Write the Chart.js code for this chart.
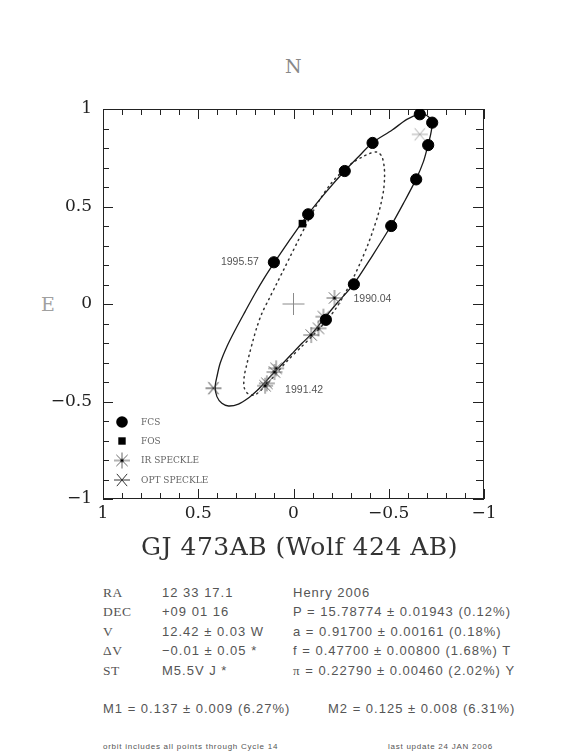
<!DOCTYPE html>
<html lang="en">
  <head>
    <meta charset="UTF-8" />
    <title>GJ 473AB orbit</title>
    <script src="https://cdn.jsdelivr.net/npm/chart.js"></script>
    <style>
      body {
        margin: 0;
        background: #fff;
        width: 566px;
        height: 754px;
        position: relative;
        overflow: hidden;
        font-family: "Liberation Sans", Arial, sans-serif;
        color: #555;
      }
      #wrap {
        position: absolute;
        left: 0;
        top: 0;
        width: 566px;
        height: 570px;
      }
      .lbl {
        position: absolute;
        white-space: pre;
        line-height: 16px;
      }
      .compass {
        font-family: "DejaVu Serif", serif;
        font-size: 19px;
        line-height: 20px;
        color: #888;
      }
      .title {
        left: 0;
        width: 599px;
        text-align: center;
        font-family: "DejaVu Serif", serif;
        font-size: 25px;
        letter-spacing: 0.5px;
        line-height: 30px;
        color: #333;
      }
      .info {
        font-size: 13px;
        letter-spacing: 1px;
      }
      .key {
        font-family: "Liberation Serif", serif;
        font-size: 13.5px;
        letter-spacing: 0.5px;
      }
      .foot {
        font-size: 8px;
        letter-spacing: 0.75px;
        line-height: 10px;
      }
    </style>
  </head>
  <body>
    <div class="lbl compass" style="left: 285px; top: 56px">N</div>
    <div class="lbl compass" style="left: 41px; top: 294px; color: #a0a0a0">E</div>
    <div id="wrap"><canvas id="orbitChart" width="566" height="570"></canvas></div>
    <div class="lbl title" style="top: 532px">GJ 473AB (Wolf 424 AB)</div>

    <div class="lbl key" style="left: 103px; top: 585px">RA</div>
    <div class="lbl info" style="left: 162px; top: 585px">12 33 17.1</div>
    <div class="lbl info" style="left: 293px; top: 585px">Henry 2006</div>

    <div class="lbl key" style="left: 103px; top: 604px">DEC</div>
    <div class="lbl info" style="left: 162px; top: 604px">+09 01 16</div>
    <div class="lbl info" style="left: 293px; top: 604px">P = 15.78774 ± 0.01943 (0.12%)</div>

    <div class="lbl key" style="left: 103px; top: 624px">V</div>
    <div class="lbl info" style="left: 162px; top: 624px">12.42 ± 0.03 W</div>
    <div class="lbl info" style="left: 293px; top: 624px">a = 0.91700 ± 0.00161 (0.18%)</div>

    <div class="lbl key" style="left: 103px; top: 643px">ΔV</div>
    <div class="lbl info" style="left: 162px; top: 643px">−0.01 ± 0.05 *</div>
    <div class="lbl info" style="left: 293px; top: 643px">f = 0.47700 ± 0.00800 (1.68%) T</div>

    <div class="lbl key" style="left: 103px; top: 663px">ST</div>
    <div class="lbl info" style="left: 162px; top: 663px">M5.5V J *</div>
    <div class="lbl info" style="left: 293px; top: 663px"><span style="font-family: 'Liberation Serif', serif">π</span> = 0.22790 ± 0.00460 (2.02%) Y</div>

    <div class="lbl info" style="left: 103px; top: 701px">M1 = 0.137 ± 0.009 (6.27%)</div>
    <div class="lbl info" style="left: 328px; top: 701px">M2 = 0.125 ± 0.008 (6.31%)</div>

    <div class="lbl foot" style="left: 103px; top: 742px">orbit includes all points through Cycle 14</div>
    <div class="lbl foot" style="left: 388px; top: 742px">last update 24 JAN 2006</div>

    <script>
      // relative position of B around A, arcsec (x axis runs east-positive to the left)
      const fcsX = [-0.663, -0.728, -0.707, -0.644, -0.513, -0.317, -0.170, -0.415, -0.269, -0.077, 0.103];
      const fcsY = [0.973, 0.930, 0.815, 0.639, 0.400, 0.101, -0.081, 0.826, 0.682, 0.460, 0.214];

      const fosX = [-0.047];
      const fosY = [0.412];

      const irX = [-0.215, -0.157, -0.131, -0.093, 0.091, 0.100, 0.140, 0.149];
      const irY = [0.031, -0.065, -0.125, -0.159, -0.330, -0.349, -0.407, -0.419];

      const optX = [0.420, -0.663];
      const optY = [-0.432, 0.870];

      // fitted orbit (solid)
      const orbitX = [0.017, -0.076, -0.166, -0.268, -0.341, -0.413, -0.518, -0.595, -0.661, -0.700,
        -0.727, -0.721, -0.706, -0.682, -0.643, -0.577, -0.511, -0.413, -0.315, -0.228,
        -0.161, -0.097, -0.046, 0.007, 0.059, 0.109, 0.151, 0.191, 0.233, 0.289,
        0.341, 0.376, 0.402, 0.411, 0.402, 0.385, 0.350, 0.306, 0.254, 0.201,
        0.149, 0.101, 0.017];
      const orbitY = [0.333, 0.460, 0.569, 0.682, 0.755, 0.826, 0.892, 0.947, 0.973, 0.967,
        0.930, 0.875, 0.815, 0.730, 0.639, 0.516, 0.400, 0.246, 0.101, 0.004,
        -0.074, -0.151, -0.200, -0.254, -0.308, -0.359, -0.403, -0.444, -0.479, -0.513,
        -0.523, -0.509, -0.475, -0.424, -0.373, -0.304, -0.219, -0.133, -0.039, 0.055,
        0.140, 0.212, 0.333];

      // dotted orbit
      const dottedX = [0.014, -0.024, -0.062, -0.101, -0.140, -0.193, -0.250, -0.308, -0.361, -0.403,
        -0.439, -0.464, -0.476, -0.478, -0.473, -0.460, -0.442, -0.418, -0.390, -0.355,
        -0.316, -0.271, -0.224, -0.172, -0.109, -0.040, 0.028, 0.080, 0.122, 0.164,
        0.206, 0.240, 0.259, 0.259, 0.246, 0.230, 0.212, 0.191, 0.166, 0.128,
        0.090, 0.052, 0.014];
      const dottedY = [0.250, 0.324, 0.398, 0.472, 0.538, 0.613, 0.674, 0.723, 0.754, 0.773,
        0.779, 0.756, 0.704, 0.651, 0.585, 0.518, 0.451, 0.379, 0.303, 0.221,
        0.138, 0.056, -0.021, -0.087, -0.154, -0.221, -0.287, -0.344, -0.392, -0.436,
        -0.467, -0.459, -0.428, -0.374, -0.313, -0.251, -0.185, -0.115, -0.048, 0.027,
        0.101, 0.175, 0.250];

      const axisTicks = [-1, -0.5, 0, 0.5, 1];

      const dateLabels = ["1995.57", "1990.04", "1991.42"];
      const dateX = [0.103, -0.215, 0.149];
      const dateY = [0.214, 0.031, -0.419];

      const legendNames = ["FCS", "FOS", "IR SPECKLE", "OPT SPECKLE"];

      function pts(xs, ys) {
        return xs.map((x, i) => ({ x: x, y: ys[i] }));
      }

      // star-like markers drawn on small canvases
      function starMark(angles, r, color, dot) {
        const c = document.createElement("canvas");
        c.width = c.height = 2 * r + 2;
        const g = c.getContext("2d");
        const m = r + 1;
        g.strokeStyle = color;
        g.lineWidth = 1;
        angles.forEach((deg) => {
          const a = (deg * Math.PI) / 180;
          g.beginPath();
          g.moveTo(m - r * Math.cos(a), m - r * Math.sin(a));
          g.lineTo(m + r * Math.cos(a), m + r * Math.sin(a));
          g.stroke();
        });
        if (dot) {
          g.fillStyle = "#000";
          g.beginPath();
          g.arc(m, m, 1.6, 0, Math.PI * 2);
          g.fill();
        }
        return c;
      }
      const irMark = starMark([0, 45, 90, 135], 8, "#666", true);
      const optDark = starMark([0, 50, 130], 8, "#333", false);
      const optLight = starMark([0, 50, 130], 8, "#aaa", false);

      const fmt = (v) => (v === 0 ? "0" : v < 0 ? "\u2212" + Math.abs(v) : String(v));

      // frame with inward ticks on all four sides, plus epoch labels and the key
      const framePlugin = {
        id: "frame",
        beforeDatasetsDraw(chart) {
          const { ctx, chartArea: a, scales } = chart;
          ctx.save();
          ctx.strokeStyle = "#222";
          ctx.lineWidth = 1;
          ctx.strokeRect(a.left + 0.5, a.top + 0.5, a.width - 1, a.height - 1);
          ctx.beginPath();
          for (let i = -10; i <= 10; i++) {
            const major = i % 5 === 0;
            const len = major ? 10 : 6;
            const lenR = major ? 11 : 8;
            const px = Math.round(scales.x.getPixelForValue(i / 10)) + 0.5;
            const py = Math.round(scales.y.getPixelForValue(i / 10)) + 0.5;
            ctx.moveTo(px, a.bottom);
            ctx.lineTo(px, a.bottom - len);
            ctx.moveTo(px, a.top);
            ctx.lineTo(px, a.top + len);
            ctx.moveTo(a.left, py);
            ctx.lineTo(a.left + len, py);
            ctx.moveTo(a.right, py);
            ctx.lineTo(a.right - lenR, py);
          }
          ctx.stroke();
          ctx.restore();
        },
        afterDatasetsDraw(chart) {
          const { ctx, chartArea: a, scales } = chart;
          ctx.save();
          const dx = [-15, 19, 20];
          const dy = [0, 1, 4];
          const align = ["right", "left", "left"];
          ctx.font = '10.5px "Liberation Sans", sans-serif';
          ctx.fillStyle = "#555";
          ctx.textBaseline = "middle";
          dateLabels.forEach((t, i) => {
            ctx.textAlign = align[i];
            ctx.fillText(t, scales.x.getPixelForValue(dateX[i]) + dx[i], scales.y.getPixelForValue(dateY[i]) + dy[i]);
          });
          const sx = a.left + 19;
          const tx = a.left + 38;
          const rows = [77, 58, 38.5, 19];
          ctx.font = '9px "DejaVu Serif", serif';
          ctx.textAlign = "left";
          legendNames.forEach((name, i) => {
            const y = a.bottom - rows[i];
            ctx.fillStyle = "#000";
            if (i === 0) {
              ctx.beginPath();
              ctx.arc(sx, y, 5.8, 0, Math.PI * 2);
              ctx.fill();
            } else if (i === 1) {
              ctx.fillRect(sx - 3.7, y - 3.7, 7.4, 7.4);
            } else {
              const m = i === 2 ? irMark : optDark;
              ctx.drawImage(m, sx - m.width / 2, y - m.height / 2);
            }
            ctx.fillStyle = "#666";
            ctx.fillText(name, tx, y + 0.5);
          });
          ctx.restore();
        },
      };

      const serifTicks = { family: '"DejaVu Serif", serif', size: 17 };

      new Chart(document.getElementById("orbitChart"), {
        type: "scatter",
        data: {
          datasets: [
            {
              label: "FCS",
              data: pts(fcsX, fcsY),
              pointStyle: "circle",
              pointRadius: 5.6,
              pointBackgroundColor: "#000",
              pointBorderColor: "#000",
              pointBorderWidth: 1,
              order: 0,
            },
            {
              label: "FOS",
              data: pts(fosX, fosY),
              pointStyle: "rect",
              pointRadius: 5.4,
              pointBackgroundColor: "#000",
              pointBorderColor: "#000",
              pointBorderWidth: 0,
              order: 1,
            },
            {
              label: "OPT SPECKLE",
              data: pts(optX, optY),
              pointStyle: [optDark, optLight],
              pointRadius: 8,
              order: 2,
            },
            {
              label: "IR SPECKLE",
              data: pts(irX, irY),
              pointStyle: irMark,
              pointRadius: 8,
              order: 3,
            },
            {
              label: "center",
              data: [{ x: 0, y: 0 }],
              pointStyle: "cross",
              pointRadius: 11,
              pointBorderColor: "#8a8a8a",
              pointBorderWidth: 1,
              order: 4,
            },
            {
              label: "orbit",
              data: pts(orbitX, orbitY),
              showLine: true,
              tension: 0.3,
              borderColor: "#1a1a1a",
              borderWidth: 1.3,
              pointRadius: 0,
              order: 5,
            },
            {
              label: "dotted orbit",
              data: pts(dottedX, dottedY),
              showLine: true,
              tension: 0.3,
              borderColor: "#333",
              borderWidth: 1.5,
              borderDash: [1.3, 4.2],
              borderCapStyle: "round",
              pointRadius: 0,
              order: 6,
            },
          ],
        },
        options: {
          responsive: false,
          animation: false,
          events: [],
          layout: { padding: { top: 109, right: 82, left: 0, bottom: 35 } },
          plugins: {
            legend: { display: false },
            tooltip: { enabled: false },
          },
          scales: {
            x: {
              type: "linear",
              min: -1,
              max: 1,
              reverse: true,
              grid: { display: false, drawTicks: false },
              border: { display: false },
              afterBuildTicks: (s) => { s.ticks = axisTicks.map((v) => ({ value: v })); },
              ticks: { padding: 4, color: "#222", font: serifTicks, callback: fmt, maxRotation: 0, autoSkip: false },
              afterFit: (s) => { s.height = 36; },
            },
            y: {
              type: "linear",
              min: -1,
              max: 1,
              grid: { display: false, drawTicks: false },
              border: { display: false },
              afterBuildTicks: (s) => { s.ticks = axisTicks.map((v) => ({ value: v })); },
              ticks: { padding: 11, color: "#222", font: serifTicks, callback: fmt, autoSkip: false },
              afterFit: (s) => { s.width = 103; },
            },
          },
        },
        plugins: [framePlugin],
      });
    </script>
  </body>
</html>
